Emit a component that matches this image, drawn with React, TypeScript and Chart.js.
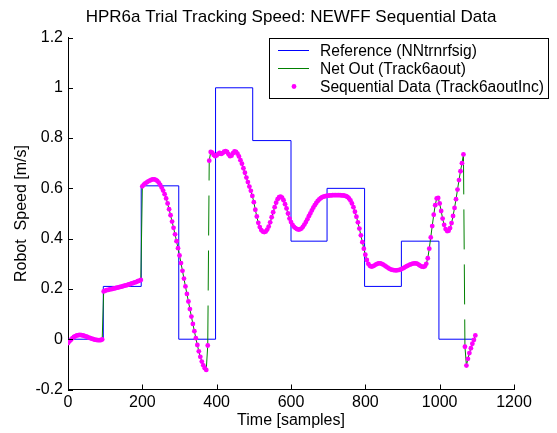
import { useEffect, useRef } from "react";
import { Chart, registerables } from "chart.js";

Chart.register(...registerables);

const TITLE = "HPR6a Trial Tracking Speed: NEWFF Sequential Data";
const X_LABEL = "Time [samples]";
const Y_LABEL = "Robot  Speed [m/s]";
const LEGEND_LABELS = [
  "Reference (NNtrnrfsig)",
  "Net Out (Track6aout)",
  "Sequential Data (Track6aoutInc)",
];

// Reference step signal: level starts at refStartX[i] with value refLevel[i]
const refStartX = [0, 95, 197, 298, 397, 497, 600, 697, 798, 897, 998, 1098];
const refLevel = [0, 0.21, 0.61, 0, 1, 0.79, 0.39, 0.6, 0.21, 0.39, 0, 0];

// Sequential data / net output, one sample every 4 time steps starting at 0
const seqStep = 4;
const seqValues = [
  -0.015, -0.008, -0.002, 0.004, 0.009, 0.012, 0.015, 0.016, 0.017, 0.016,
  0.015, 0.013, 0.011, 0.009, 0.006, 0.004, 0.002, 0.0, -0.002, -0.003,
  -0.004, -0.004, -0.004, -0.001, 0.19, 0.193, 0.195, 0.196, 0.198, 0.199,
  0.2, 0.202, 0.203, 0.205, 0.206, 0.208, 0.209, 0.211, 0.213, 0.214,
  0.216, 0.218, 0.22, 0.222, 0.224, 0.226, 0.228, 0.231, 0.233, 0.236,
  0.608, 0.615, 0.62, 0.624, 0.628, 0.631, 0.634, 0.636, 0.636, 0.634,
  0.63, 0.623, 0.614, 0.603, 0.591, 0.577, 0.56, 0.54, 0.517, 0.493,
  0.468, 0.443, 0.417, 0.39, 0.362, 0.333, 0.303, 0.272, 0.241, 0.21,
  0.18, 0.15, 0.12, 0.09, 0.061, 0.032, 0.004, -0.023, -0.048, -0.07,
  -0.089, -0.104, -0.115, -0.122, -0.025, 0.71, 0.745, 0.742, 0.733, 0.728,
  0.731, 0.737, 0.741, 0.737, 0.74, 0.746, 0.748, 0.745, 0.736, 0.728,
  0.73, 0.74, 0.747, 0.745, 0.738, 0.727, 0.712, 0.698, 0.68, 0.662,
  0.643, 0.625, 0.607, 0.59, 0.57, 0.545, 0.515, 0.488, 0.463, 0.446,
  0.434, 0.428, 0.426, 0.428, 0.436, 0.448, 0.465, 0.485, 0.505, 0.525,
  0.543, 0.557, 0.565, 0.567, 0.563, 0.553, 0.537, 0.52, 0.5, 0.48,
  0.466, 0.455, 0.447, 0.442, 0.438, 0.436, 0.437, 0.44, 0.447, 0.456,
  0.466, 0.477, 0.489, 0.5, 0.512, 0.523, 0.533, 0.542, 0.55, 0.556,
  0.561, 0.565, 0.567, 0.569, 0.57, 0.571, 0.572, 0.572, 0.573, 0.573,
  0.573, 0.573, 0.573, 0.573, 0.572, 0.572, 0.571, 0.569, 0.566, 0.56,
  0.552, 0.54, 0.525, 0.507, 0.487, 0.465, 0.44, 0.413, 0.386, 0.36,
  0.336, 0.315, 0.3, 0.292, 0.289, 0.29, 0.293, 0.297, 0.3, 0.302,
  0.302, 0.3, 0.297, 0.293, 0.289, 0.285, 0.281, 0.278, 0.276, 0.275,
  0.274, 0.274, 0.275, 0.276, 0.278, 0.281, 0.284, 0.288, 0.291, 0.294,
  0.297, 0.299, 0.301, 0.302, 0.302, 0.3, 0.296, 0.292, 0.289, 0.288,
  0.29, 0.3, 0.322, 0.36, 0.405, 0.45, 0.495, 0.533, 0.56, 0.562,
  0.54, 0.51, 0.48, 0.455, 0.438, 0.43, 0.431, 0.442, 0.462, 0.49,
  0.522, 0.557, 0.595, 0.633, 0.668, 0.7, 0.735, -0.03, -0.105, -0.078,
  -0.055, -0.036, -0.018, -0.003, 0.015,
];

const X_MIN = 0;
const X_MAX = 1200;
const X_STEP = 200;
const Y_MIN = -0.2;
const Y_MAX = 1.2;
const Y_STEP = 0.2;

const FONT = "'Liberation Sans', Arial, Helvetica, sans-serif";
const BLUE = "#0000ff";
const GREEN = "#008000";
const MAGENTA = "#ff00ff";

const matlabPlugin = {
  id: "matlabDecor",
  afterDraw(chart: any) {
    const { ctx, chartArea: a } = chart;
    const xs = chart.scales.x;
    const ys = chart.scales.y;
    ctx.save();
    // inward tick marks
    ctx.strokeStyle = "#000";
    ctx.lineWidth = 1;
    ctx.beginPath();
    xs.ticks.forEach((t: any) => {
      const px = Math.round(xs.getPixelForValue(t.value)) + 0.5;
      ctx.moveTo(px, a.bottom);
      ctx.lineTo(px, a.bottom - 5);
    });
    ys.ticks.forEach((t: any) => {
      const py = Math.round(ys.getPixelForValue(t.value)) + 0.5;
      ctx.moveTo(a.left, py);
      ctx.lineTo(a.left + 5, py);
    });
    ctx.stroke();

    // legend box
    const bx = 269.5, by = 38.5, bw = 279, bh = 60;
    ctx.fillStyle = "#fff";
    ctx.fillRect(bx, by, bw, bh);
    ctx.strokeStyle = "#000";
    ctx.lineWidth = 1;
    ctx.strokeRect(bx, by, bw, bh);
    const rows = [50.5, 68.5, 86.5];
    const lx0 = 278, lx1 = 309, tx = 320;
    ctx.font = `15.6px ${FONT}`;
    ctx.textBaseline = "middle";
    ctx.textAlign = "left";
    // reference
    ctx.strokeStyle = BLUE;
    ctx.beginPath();
    ctx.moveTo(lx0, rows[0]);
    ctx.lineTo(lx1, rows[0]);
    ctx.stroke();
    // net out
    ctx.strokeStyle = GREEN;
    ctx.beginPath();
    ctx.moveTo(lx0, rows[1]);
    ctx.lineTo(lx1, rows[1]);
    ctx.stroke();
    // sequential
    ctx.fillStyle = MAGENTA;
    ctx.beginPath();
    ctx.arc((lx0 + lx1) / 2 + 0.5, rows[2], 2.4, 0, Math.PI * 2);
    ctx.fill();
    ctx.fillStyle = "#000";
    LEGEND_LABELS.forEach((txt, i) => ctx.fillText(txt, tx, rows[i] + 1));
    ctx.restore();
  },
};

const fmt = (v: any) => String(Math.round(Number(v) * 10) / 10);

export default function App() {
  const canvasRef = useRef<HTMLCanvasElement | null>(null);

  useEffect(() => {
    const canvas = canvasRef.current;
    if (!canvas) return;
    const refData = refStartX.map((x, i) => ({ x, y: refLevel[i] }));
    const seqData = seqValues.map((y, i) => ({ x: i * seqStep, y }));

    const chart = new Chart(canvas, {
      type: "scatter",
      data: {
        datasets: [
          {
            label: LEGEND_LABELS[0],
            data: refData,
            showLine: true,
            stepped: "before",
            borderColor: BLUE,
            borderWidth: 1,
            pointRadius: 0,
            order: 3,
          },
          {
            label: LEGEND_LABELS[1],
            data: seqData,
            showLine: true,
            borderColor: GREEN,
            borderWidth: 1,
            pointRadius: 0,
            order: 2,
            segment: {
              borderDash: (ctx: any) =>
                Math.abs(ctx.p1.parsed.y - ctx.p0.parsed.y) > 0.5 ? [40, 15] : undefined,
            },
          },
          {
            label: LEGEND_LABELS[2],
            data: seqData,
            showLine: false,
            pointRadius: 2.4,
            pointBorderWidth: 0,
            pointBackgroundColor: MAGENTA,
            pointBorderColor: MAGENTA,
            order: 1,
          },
        ],
      } as any,
      options: {
        responsive: false,
        animation: false,
        devicePixelRatio: 1,
        events: [],
        layout: { padding: { left: 0, right: 43, top: 0, bottom: 0 } },
        plugins: {
          legend: { display: false },
          tooltip: { enabled: false },
          title: {
            display: true,
            text: TITLE,
            fullSize: false,
            color: "#000",
            font: { family: FONT, size: 17, weight: "normal" },
            padding: { top: 6.8, bottom: 10.3 },
          },
        },
        scales: {
          x: {
            type: "linear",
            min: X_MIN,
            max: X_MAX,
            grid: { display: false, drawTicks: false },
            border: { display: true, color: "#000", width: 1 },
            ticks: {
              stepSize: X_STEP,
              color: "#000",
              padding: 3,
              font: { family: FONT, size: 16 },
              maxRotation: 0,
              callback: fmt,
            },
            title: {
              display: true,
              text: X_LABEL,
              color: "#000",
              font: { family: FONT, size: 16 },
              padding: { top: 0, bottom: 2.4 },
            },
            afterFit: (s: any) => {
              s.height = 43.5;
            },
          },
          y: {
            type: "linear",
            min: Y_MIN,
            max: Y_MAX,
            grid: { display: false, drawTicks: false },
            border: { display: true, color: "#000", width: 1 },
            ticks: {
              stepSize: Y_STEP,
              color: "#000",
              padding: 5,
              font: { family: FONT, size: 16 },
              callback: fmt,
            },
            title: {
              display: true,
              text: Y_LABEL,
              color: "#000",
              font: { family: FONT, size: 16 },
              padding: { top: 12.4, bottom: 0 },
            },
            afterFit: (s: any) => {
              s.width = 68;
            },
          },
        },
      } as any,
      plugins: [matlabPlugin],
    });
    return () => chart.destroy();
  }, []);

  return (
    <div style={{ position: "absolute", left: 0, top: 0, width: 557, height: 433, background: "#fff" }}>
      <canvas ref={canvasRef} width={557} height={433} />
    </div>
  );
}
